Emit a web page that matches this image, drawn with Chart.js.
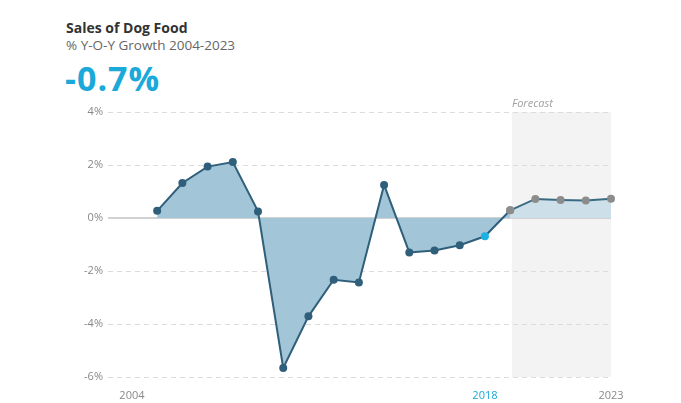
<!DOCTYPE html>
<html lang="en">
<head>
  <meta charset="UTF-8" />
  <title>Sales of Dog Food</title>
  <script src="https://cdn.jsdelivr.net/npm/chart.js"></script>
  <style>
    html, body { margin: 0; padding: 0; background: #fff; }
    body { width: 681px; height: 403px; position: relative; overflow: hidden; font-family: "Open Sans", sans-serif; }
    .title, .sub, .big { position: absolute; left: 66px; line-height: normal; white-space: nowrap; }
    .title { top: 18px; font-size: 14px; font-weight: 700; color: #333; }
    .sub { top: 36px; font-size: 13.5px; color: #666; }
    .big { left: 65px; top: 55px; font-size: 34px; font-weight: 700; color: #1aa9d9; letter-spacing: 1px; }
    #wrap { position: absolute; left: 0; top: 0; width: 681px; height: 403px; }
  </style>
</head>
<body>
  <div class="title">Sales of Dog Food</div>
  <div class="sub">% Y-O-Y Growth 2004-2023</div>
  <div class="big">-0.7%</div>
  <div id="wrap"><canvas id="c"></canvas></div>

  <script>
    // data
    const years = [2004, 2005, 2006, 2007, 2008, 2009, 2010, 2011, 2012, 2013, 2014, 2015, 2016, 2017, 2018, 2019, 2020, 2021, 2022, 2023];
    const growth = [null, 0.27, 1.32, 1.94, 2.11, 0.25, -5.66, -3.71, -2.33, -2.43, 1.25, -1.30, -1.23, -1.03, -0.69, 0.29, 0.72, 0.68, 0.66, 0.73];
    const forecastFrom = 2019;
    const highlightYear = 2018;
    const xTickYears = [2004, 2018, 2023];
    const yTickValues = [-6, -4, -2, 0, 2, 4];

    const LINE = '#2f5f7a';
    const pts = years.map((y, i) => ({ x: y, y: growth[i] })).filter(p => p.y !== null);
    const hist = pts.filter(p => p.x <= forecastFrom);
    const fcst = pts.filter(p => p.x >= forecastFrom);

    const pointColor = p => p.x === highlightYear ? '#1ab2e4' : (p.x >= forecastFrom ? '#8c8c8c' : LINE);

    const backdrop = {
      id: 'backdrop',
      beforeDraw(chart) {
        const { ctx, chartArea, scales } = chart;
        const x0 = scales.x.getPixelForValue(forecastFrom + 0.07);
        ctx.save();
        ctx.fillStyle = '#f3f3f3';
        ctx.fillRect(x0, chartArea.top, chartArea.right - x0, chartArea.bottom - chartArea.top);
        ctx.fillStyle = '#a0a0a0';
        ctx.font = 'italic 11px "Open Sans", sans-serif';
        ctx.textAlign = 'left';
        ctx.textBaseline = 'alphabetic';
        ctx.fillText('Forecast', x0, chartArea.top - 5);
        ctx.restore();
      },
      beforeDatasetsDraw(chart) {
        const { ctx, chartArea, scales } = chart;
        const y0 = scales.y.getPixelForValue(0);
        ctx.save();
        ctx.strokeStyle = '#d2d2d2';
        ctx.lineWidth = 2;
        ctx.beginPath();
        ctx.moveTo(chartArea.left, y0);
        ctx.lineTo(chartArea.right, y0);
        ctx.stroke();
        ctx.restore();
      }
    };

    new Chart(document.getElementById('c'), {
      type: 'line',
      data: {
        datasets: [
          {
            data: hist,
            borderColor: LINE,
            borderWidth: 2,
            backgroundColor: '#a3c5d8',
            fill: 'origin',
            pointRadius: 4,
            pointBorderWidth: 0,
            pointBackgroundColor: ctx => pointColor(ctx.raw),
            tension: 0,
            clip: false
          },
          {
            data: fcst,
            borderColor: '#3a6b82',
            borderWidth: 2,
            backgroundColor: '#cddfe9',
            fill: 'origin',
            pointRadius: 4,
            pointBorderWidth: 0,
            pointBackgroundColor: ctx => pointColor(ctx.raw),
            tension: 0,
            clip: false
          }
        ]
      },
      options: {
        responsive: true,
        maintainAspectRatio: false,
        animation: false,
        layout: { padding: { left: 0, right: 70, top: 112, bottom: 0 } },
        plugins: { legend: { display: false }, tooltip: { enabled: false } },
        scales: {
          x: {
            type: 'linear',
            min: 2003.05,
            max: 2023,
            afterBuildTicks: s => { s.ticks = xTickYears.map(v => ({ value: v })); },
            afterFit: s => { s.height = 26; },
            grid: { display: false },
            border: { display: false },
            ticks: {
              padding: 4,
              color: c => c.tick.value === highlightYear ? '#1aa9d9' : '#888',
              font: { family: '"Open Sans", sans-serif', size: 11 },
              callback: v => String(v)
            }
          },
          y: {
            min: -6,
            max: 4,
            afterBuildTicks: s => { s.ticks = yTickValues.map(v => ({ value: v })); },
            afterFit: s => { s.width = 108; },
            grid: {
              drawTicks: false,
              color: c => c.tick && c.tick.value === 0 ? 'rgba(0,0,0,0)' : '#dcdcdc',
              lineWidth: 1
            },
            border: { display: false, dash: [5, 4] },
            ticks: {
              padding: 5,
              color: '#888',
              font: { family: '"Open Sans", sans-serif', size: 11 },
              callback: v => v + '%'
            }
          }
        }
      },
      plugins: [backdrop]
    });
  </script>
</body>
</html>
